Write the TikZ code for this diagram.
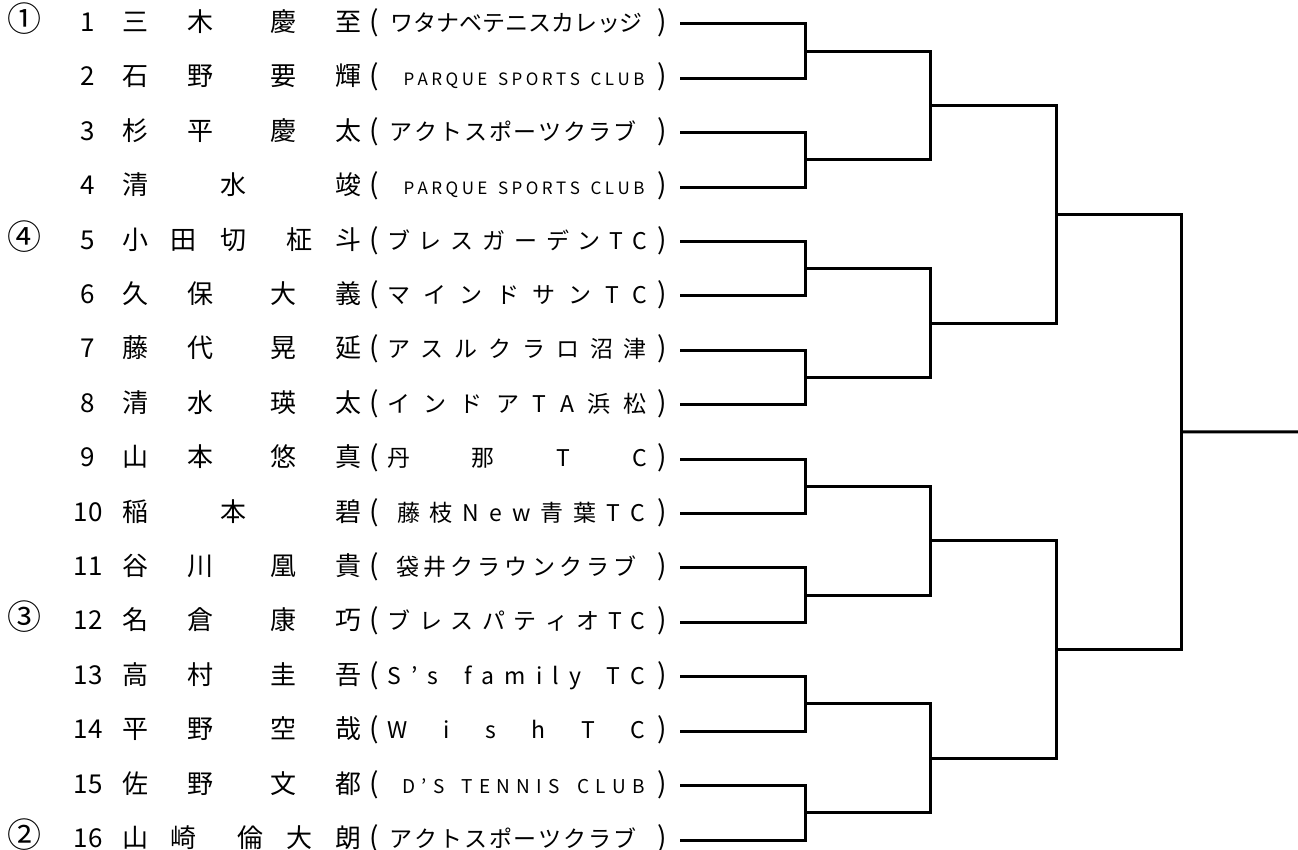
\documentclass[tikz,border=0pt]{standalone}
\usepackage{fontspec}
\usepackage{tikz}
\newfontfamily\jpFont{Noto Sans CJK JP}
\tikzstyle{sheet} = [x = .5pt, y = -.5pt]
\tikzstyle{rowText} = [inner sep = 0pt, text height = .88em, text depth = .12em]
\tikzstyle{nameText} = [rowText, font = \jpFont\fontsize{13}{14}\selectfont]
\tikzstyle{seedText} = [rowText, font = \jpFont\fontsize{17}{18}\selectfont]
\tikzstyle{parenText} = [rowText, font = \jpFont\fontsize{14}{15}\selectfont]
\tikzstyle{clubText} = [rowText, font = \jpFont\fontsize{11.5}{12}\selectfont]
\tikzstyle{smallClubText} = [rowText, font = \jpFont\fontsize{8.5}{9}\selectfont]
\tikzstyle{tennisClubText} = [rowText, font = \jpFont\fontsize{9.5}{10}\selectfont]
\tikzstyle{bracketLine} = [line width = 1.5pt, line join = miter]
\newcommand{\rowGap}{54.4}
\makeatletter
\newcommand{\spreadBox}[2]{\makebox[#1][s]{\def\spreadSep{}\@tfor\spreadChar:=#2\do{\spreadSep\spreadChar\def\spreadSep{\hfil}}}}
\makeatother
\newcommand{\playerRow}[6][clubText]{
  \pgfmathsetmacro{\rowY}{24 + (#2 - 1) * \rowGap}
  \node [nameText] (num#2) at (88, \rowY) {#2};
  \foreach \nameChar/\nameX [count=\charIdx] in {#3} {
    \node [nameText] (name#2-\charIdx) at (\nameX, \rowY) {\nameChar};
  }
  \node [parenText] (open#2) at (374, \rowY) {(};
  \node [#1] (club#2) at (#5, \rowY) {\spreadBox{#6pt}{#4}};
  \node [parenText] (close#2) at (662, \rowY) {)};
  \coordinate (e#2) at (680, \rowY);
}

\begin{document}
\begin{tikzpicture}[sheet]
  \useasboundingbox (0,0) rectangle (1298,850);
  \playerRow{1}{三/135,木/200,慶/283,至/348}{ワタナベテニスカレッジ}{514}{124}
  \playerRow[smallClubText]{2}{石/135,野/200,要/283,輝/348}{PARQUE~SPORTS~CLUB}{524}{120.5}
  \playerRow{3}{杉/135,平/200,慶/283,太/348}{アクトスポーツクラブ}{513}{123.5}
  \playerRow[smallClubText]{4}{清/135,水/233,竣/348}{PARQUE~SPORTS~CLUB}{524}{120.5}
  \playerRow{5}{小/135,田/183,切/233,柾/299,斗/348}{ブレスガーデンTC}{517}{130}
  \playerRow{6}{久/135,保/200,大/283,義/348}{マインドサンTC}{517}{130}
  \playerRow{7}{藤/135,代/200,晃/283,延/348}{アスルクラロ沼津}{517}{130}
  \playerRow{8}{清/135,水/200,瑛/283,太/348}{インドアTA浜松}{517}{130}
  \playerRow{9}{山/135,本/200,悠/283,真/348}{丹那TC}{517}{130}
  \playerRow{10}{稲/135,本/233,碧/348}{藤枝New青葉TC}{521}{124}
  \playerRow{11}{谷/135,川/200,凰/283,貴/348}{袋井クラウンクラブ}{516.5}{120}
  \playerRow{12}{名/135,倉/200,康/283,巧/348}{ブレスパティオTC}{516.5}{129}
  \playerRow{13}{高/135,村/200,圭/283,吾/348}{S’s~family~TC}{516.5}{129}
  \playerRow{14}{平/135,野/200,空/283,哉/348}{WishTC}{516.5}{129}
  \playerRow[tennisClubText]{15}{佐/135,野/200,文/283,都/348}{D’S~TENNIS~CLUB}{523.5}{121.5}
  \playerRow{16}{山/135,崎/183,倫/250,大/299,朗/348}{アクトスポーツクラブ}{513}{123.5}

  % seeds
  \node [seedText] (seed1) at (24, 24) {①};
  \node [seedText] (seed4) at (24, 24 + 4 * \rowGap) {④};
  \node [seedText] (seed3) at (24, 24 + 11 * \rowGap) {③};
  \node [seedText] (seed2) at (24, 24 + 15 * \rowGap) {②};

  % first round
  \foreach \j in {1,...,8} {
    \pgfmathtruncatemacro{\topRow}{2 * \j - 1}
    \pgfmathtruncatemacro{\botRow}{2 * \j}
    \pgfmathsetmacro{\midY}{24 + (2 * \j - 1.5) * \rowGap}
    \coordinate (w1-\j) at (805, \midY);
    \draw [bracketLine] (e\topRow) -| (w1-\j) |- (e\botRow);
  }
  % later rounds
  \foreach \roundNo in {2,3,4} {
    \pgfmathtruncatemacro{\prevRound}{\roundNo - 1}
    \pgfmathtruncatemacro{\matchCount}{2^(4 - \roundNo)}
    \pgfmathsetmacro{\roundX}{679.5 + 125.6 * \roundNo}
    \foreach \j in {1,...,\matchCount} {
      \pgfmathtruncatemacro{\topRow}{2 * \j - 1}
      \pgfmathtruncatemacro{\botRow}{2 * \j}
      \pgfmathsetmacro{\midY}{24 + ((\j - 1) * 2^\roundNo + (2^\roundNo - 1) / 2) * \rowGap}
      \coordinate (w\roundNo-\j) at (\roundX, \midY);
      \draw [bracketLine] (w\prevRound-\topRow) -| (w\roundNo-\j) |- (w\prevRound-\botRow);
    }
  }
  \coordinate (champ) at (1298, 432);
  \draw [bracketLine] (w4-1) -- (champ);
\end{tikzpicture}
\end{document}
